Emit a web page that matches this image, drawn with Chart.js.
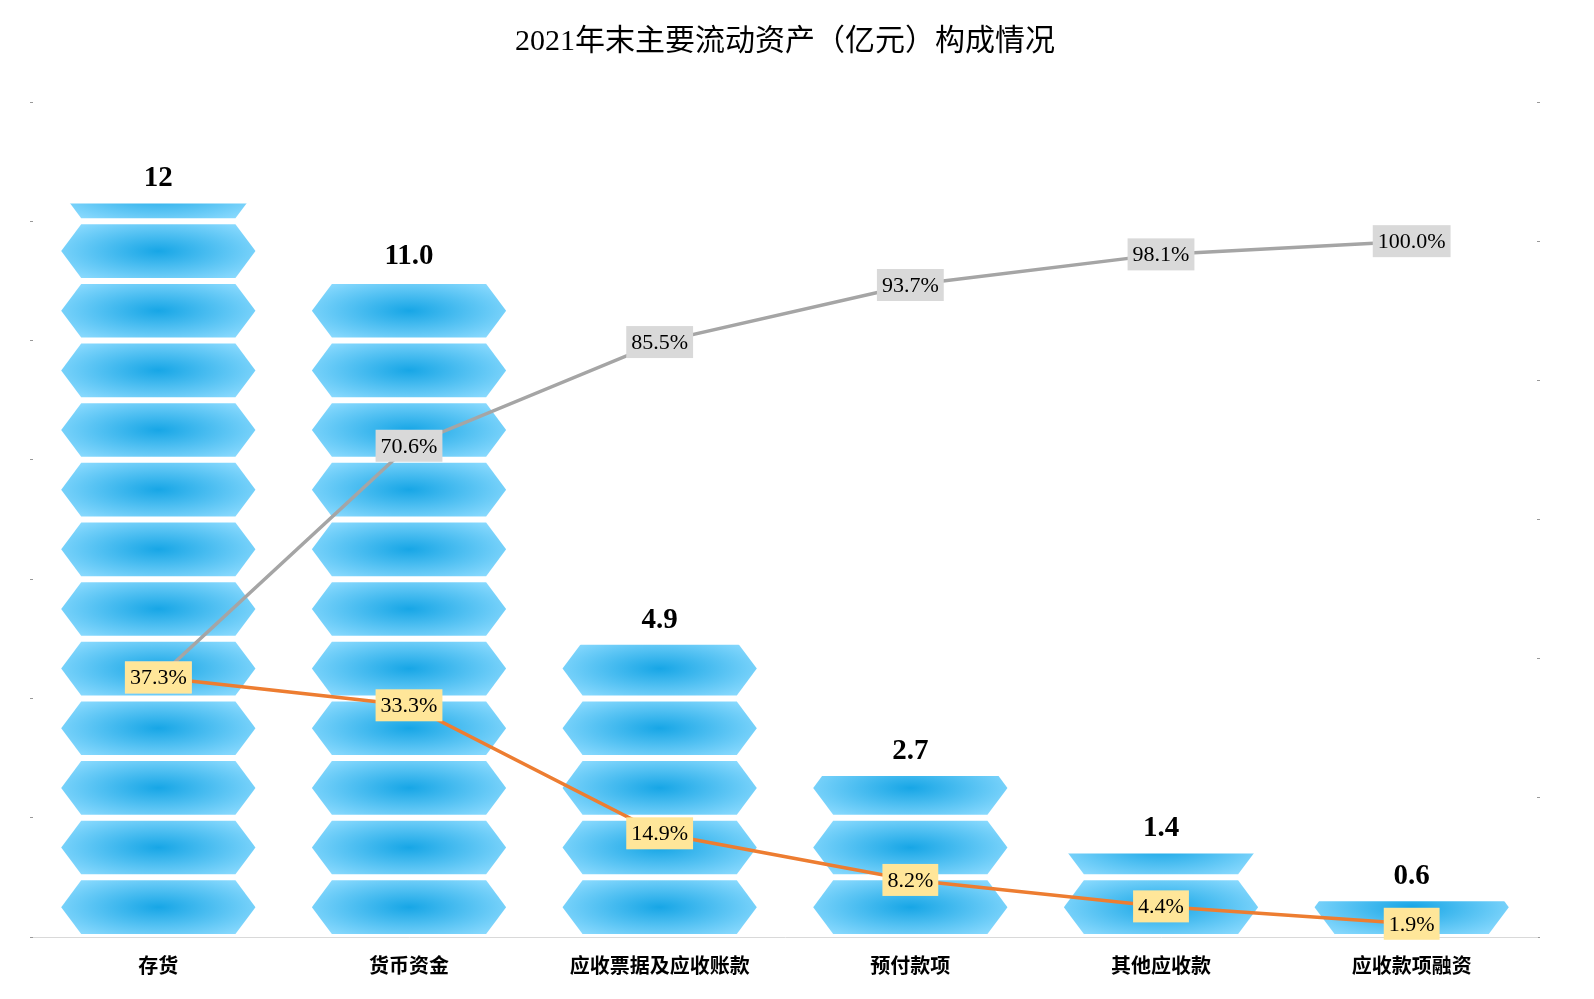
<!DOCTYPE html>
<html>
<head>
<meta charset="utf-8">
<script src="https://cdn.jsdelivr.net/npm/chart.js@4"></script>
<style>
  body { margin: 0; background: #fff; }
  #wrap { width: 1594px; height: 999px; }
</style>
</head>
<body>
<div id="wrap"><canvas id="chart"></canvas></div>
<script>
const categories = ['存货', '货币资金', '应收票据及应收账款', '预付款项', '其他应收款', '应收款项融资'];
const amounts = [12.3, 11.0, 4.9, 2.7, 1.4, 0.6];
const amountLabels = ['12', '11.0', '4.9', '2.7', '1.4', '0.6'];
const sharePct = [37.3, 33.3, 14.9, 8.2, 4.4, 1.9];
const cumulativePct = [37.3, 70.6, 85.5, 93.7, 98.1, 100.0];

// draws every bar as a stack of hexagons, one per unit of value (under the lines)
const hexBars = {
    id: 'hexBars',
    beforeDatasetsDraw (chart) {
        const ctx = chart.ctx;
        const y = chart.scales.y;
        const meta = chart.getDatasetMeta(0);
        meta.data.forEach((bar, i) => {
            const { x, width } = bar.getProps(['x', 'width'], true);
            const top = y.getPixelForValue(amounts[i]);
            const left = x - width / 2;
            ctx.save();
            ctx.beginPath();
            ctx.rect(left - 2, top, width + 4, y.bottom - top);
            ctx.clip();
            for (let u = 0; u < Math.ceil(amounts[i]); u++) {
                const yb = y.getPixelForValue(u);
                const yt = y.getPixelForValue(u + 1);
                const h = yb - yt;
                const t = yt + 3, b = yb - 3, m = (t + b) / 2;
                const inset = 20;
                ctx.save();
                ctx.beginPath();
                ctx.moveTo(left, m);
                ctx.lineTo(left + inset, t);
                ctx.lineTo(left + width - inset, t);
                ctx.lineTo(left + width, m);
                ctx.lineTo(left + width - inset, b);
                ctx.lineTo(left + inset, b);
                ctx.closePath();
                ctx.clip();
                ctx.translate(x, m);
                ctx.scale(width / h, 1);
                const g = ctx.createRadialGradient(0, 0, 0, 0, 0, h / 1.6);
                g.addColorStop(0, '#17a6e6');
                g.addColorStop(1, '#8fdcff');
                ctx.fillStyle = g;
                ctx.fillRect(-h, -h, 2 * h, 2 * h);
                ctx.restore();
            }
            ctx.restore();

            ctx.fillStyle = '#000';
            ctx.font = 'bold 29px "Liberation Serif"';
            ctx.textAlign = 'center';
            ctx.textBaseline = 'bottom';
            ctx.fillText(amountLabels[i], x, top - 10);
        });
    }
};

// boxed percent labels on the two lines
const boxLabels = {
    id: 'boxLabels',
    afterDraw (chart) {
        const ctx = chart.ctx;
        const y2 = chart.scales.y2;
        const x = chart.scales.x;
        ctx.save();
        ctx.font = '22px "Liberation Serif"';
        ctx.textAlign = 'center';
        ctx.textBaseline = 'middle';
        const draw = (vals, bg) => {
            vals.forEach((v, i) => {
                const px = x.getPixelForValue(i);
                const py = y2.getPixelForValue(v);
                const txt = v.toFixed(1) + '%';
                const w = ctx.measureText(txt).width + 10;
                ctx.fillStyle = bg;
                ctx.fillRect(px - w / 2, py - 16, w, 32);
                ctx.fillStyle = '#000';
                ctx.fillText(txt, px, py + 1);
            });
        };
        draw(cumulativePct, '#d9d9d9');
        draw(sharePct, '#ffe699');
        ctx.restore();
    }
};

new Chart(document.getElementById('chart'), {
    data: {
        labels: categories,
        datasets: [
            {
                type: 'bar', data: amounts, yAxisID: 'y',
                backgroundColor: 'rgba(0,0,0,0)',
                categoryPercentage: 1, barPercentage: 0.775, order: 3
            },
            {
                type: 'line', data: cumulativePct, yAxisID: 'y2',
                borderColor: '#a5a5a5', borderWidth: 3.5, pointRadius: 0, order: 1
            },
            {
                type: 'line', data: sharePct, yAxisID: 'y2',
                borderColor: '#ed7d31', borderWidth: 3.5, pointRadius: 0, order: 2
            }
        ]
    },
    options: {
        responsive: true,
        maintainAspectRatio: false,
        animation: false,
        layout: { padding: { left: 30, right: 54, bottom: 14 } },
        plugins: {
            legend: { display: false },
            tooltip: { enabled: false },
            title: {
                display: true,
                text: '2021年末主要流动资产（亿元）构成情况',
                color: '#000',
                font: { family: '"Liberation Serif", "Noto Sans CJK SC"', size: 30, weight: 'normal' },
                padding: { top: 24, bottom: 42 }
            }
        },
        scales: {
            x: {
                grid: { display: false },
                border: { color: '#d9d9d9' },
                ticks: { color: '#000', font: { family: '"Noto Sans CJK SC"', size: 20, weight: 'bold' }, padding: 8 }
            },
            y: {
                min: 0, max: 14,
                ticks: { stepSize: 2, display: false },
                grid: { drawOnChartArea: false, tickLength: 3, color: '#999' },
                border: { display: false }
            },
            y2: {
                position: 'right',
                min: 0, max: 120,
                ticks: { stepSize: 20, display: false },
                grid: { drawOnChartArea: false, tickLength: 3, color: '#999' },
                border: { display: false }
            }
        }
    },
    plugins: [hexBars, boxLabels]
});
</script>
</body>
</html>
